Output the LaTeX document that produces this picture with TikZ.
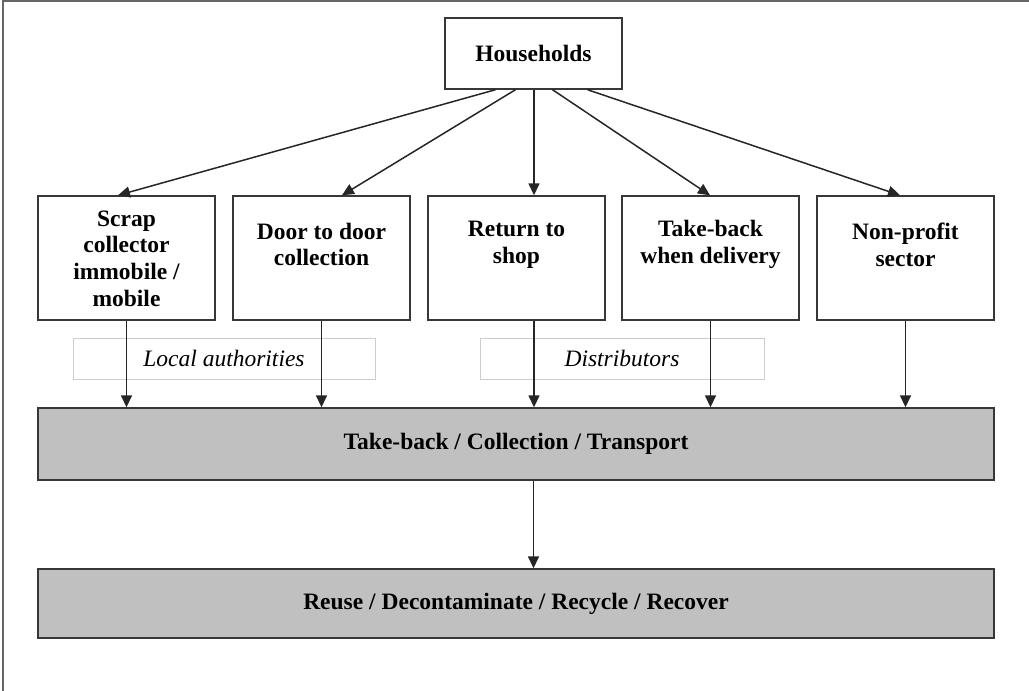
\documentclass[tikz,border=0pt]{standalone}
\usepackage{fontspec}
\setmainfont{Liberation Serif}
\usetikzlibrary{arrows.meta}
\definecolor{bordc}{RGB}{55,55,55}
\definecolor{barfill}{RGB}{192,192,192}
\definecolor{lblc}{RGB}{205,205,205}
\begin{document}
\begin{tikzpicture}[x=1pt,y=-1pt,
  box/.style={draw=bordc,line width=1.4pt,fill=white,inner sep=0pt,minimum width=177pt,minimum height=124pt},
  hhbox/.style={draw=bordc,line width=1.4pt,fill=white,inner sep=0pt,minimum width=177pt,minimum height=71pt,font=\fontsize{23.5}{27}\selectfont\bfseries},
  bar/.style={draw=bordc,line width=1.4pt,fill=barfill,inner sep=0pt,minimum width=956pt,font=\fontsize{23.5}{27}\selectfont\bfseries},
  lbl/.style={draw=lblc,line width=1pt,inner sep=0pt,minimum height=41pt,font=\fontsize{23.5}{27}\selectfont\itshape},
  txt/.style={align=center,inner sep=0pt,font=\fontsize{23.5}{26.7}\selectfont\bfseries},
  arr/.style={draw=black!85,line width=1.5pt,-{Triangle[length=12pt,width=11pt]}}]
\useasboundingbox (0,0) rectangle (1029,691);
\draw[draw=black!60,line width=1.3pt] (3,691) -- (3,1) -- (1029,1);
% households
\node[hhbox] (hh) at (533.5,53.5) {Households};
% boxes
\node[box] (b1) at (126.5,258) {};
\node[box] (b2) at (321.5,258) {};
\node[box] (b3) at (516.5,258) {};
\node[box] (b4) at (710.5,258) {};
\node[box] (b5) at (905.5,258) {};
\node[txt] (t1) at (126.5,258.5) {Scrap\\collector\\immobile /\\mobile};
\node[txt] (t2) at (321.5,244.5) {Door to door\\collection};
\node[txt] (t3) at (516.5,244.5) {Return to\\shop};
\node[txt] (t4) at (710.5,244.5) {Take-back\\when delivery};
\node[txt] (t5) at (905.5,244.5) {Non-profit\\sector};
% labels
\node[lbl,minimum width=302pt] (la) at (224,358.5) {Local authorities};
\node[lbl,minimum width=284pt] (ld) at (622,358.5) {Distributors};
% bars
\node[bar,minimum height=72pt] (tb) at (516,444) {Take-back / Collection / Transport};
\node[bar,minimum height=69pt] (re) at (516,603.5) {Reuse / Decontaminate / Recycle / Recover};
% arrows from households
\draw[arr] ([xshift=-38pt]hh.south) -- ([xshift=-8.5pt]b1.north);
\draw[arr] ([xshift=-18pt]hh.south) -- ([xshift=20.5pt]b2.north);
\draw[arr] ([xshift=0.5pt]hh.south) -- ([xshift=17.5pt]b3.north);
\draw[arr] ([xshift=19pt]hh.south) -- ([xshift=-0.5pt]b4.north);
\draw[arr] ([xshift=54pt]hh.south) -- ([xshift=-5.5pt]b5.north);
% arrows to bar
\draw[arr] (b1.south) -- (b1.south |- tb.north);
\draw[arr] (b2.south) -- (b2.south |- tb.north);
\draw[arr] ([xshift=17.5pt]b3.south) -- ([xshift=17.5pt]b3.south |- tb.north);
\draw[arr] (b4.south) -- (b4.south |- tb.north);
\draw[arr] (b5.south) -- (b5.south |- tb.north);
\draw[arr] (tb.south -| hh.south) -- (re.north -| hh.south);
\end{tikzpicture}
\end{document}
